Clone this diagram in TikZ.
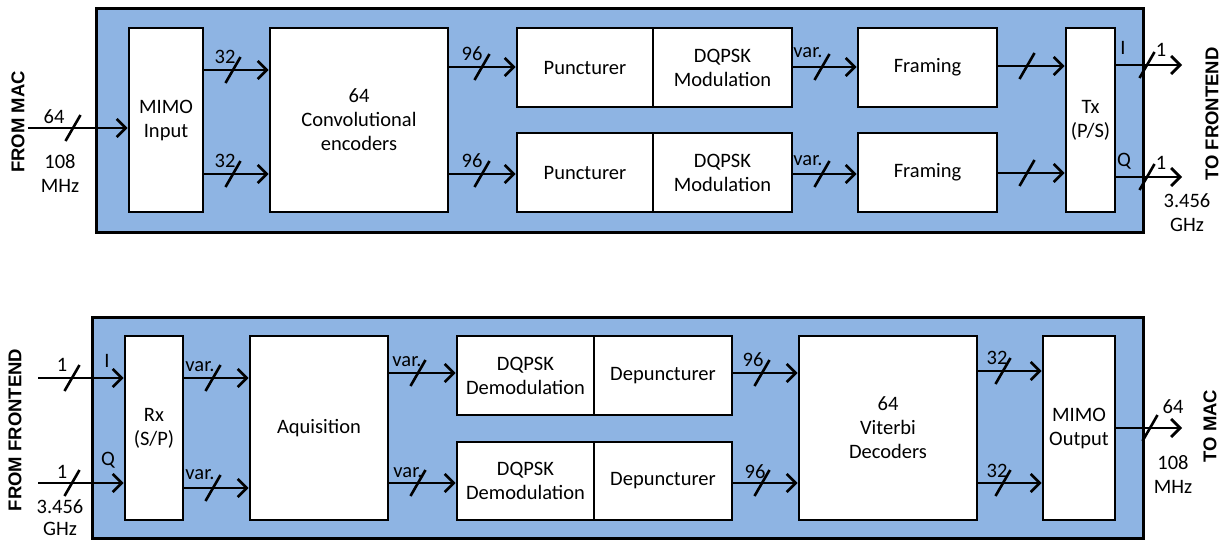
\documentclass[tikz,border=0pt]{standalone}
\usepackage{fontspec}
\setmainfont{Carlito}
\newfontfamily\sidefont{Liberation Sans}
\usetikzlibrary{arrows.meta}
\definecolor{panelblue}{RGB}{142,180,227}
% short slash across a bus line, centred on (x,y)
\newcommand\busmark[2]{\draw[busln] ([shift={(-7.5pt,-13pt)}]#1,#2) -- ([shift={(7.5pt,13pt)}]#1,#2);}
\begin{document}
\begin{tikzpicture}[x=1pt,y=-1pt,
  every node/.style={font=\fontsize{20.5}{24}\selectfont},
  panel/.style 2 args={draw=black, line width=3pt, fill=panelblue,
    minimum width=#1pt, minimum height=#2pt, inner sep=0pt},
  blk/.style 2 args={draw=black, line width=2.8pt, fill=white,
    minimum width=#1pt, minimum height=#2pt, inner sep=0pt, align=center},
  arr/.style={line width=2.7pt, -{Straight Barb[length=9pt,width=18pt]}},
  busln/.style={line width=2.6pt},
  lbl/.style={inner sep=0pt, align=center},
  side/.style={rotate=90, inner sep=0pt, font=\sidefont\bfseries\fontsize{18.5}{22}\selectfont}]
\useasboundingbox (0,0) rectangle (1222,542);

% ---------------- transmitter ----------------
\node[panel={1047}{224}] (txpanel) at (619.5,120) {};
\node[blk={74}{184}] (mimoin) at (166,120) {MIMO\\Input};
\node[blk={178}{184}] (conv) at (359,120) {64\\Convolutional\\encoders};
\node[blk={136}{79}] (punc1) at (585,67.5) {Puncturer};
\node[blk={139}{79}] (mod1) at (722.5,67.5) {DQPSK\\Modulation};
\node[blk={136}{79}] (punc2) at (585,172.5) {Puncturer};
\node[blk={139}{79}] (mod2) at (722.5,172.5) {DQPSK\\Modulation};
\node[blk={139}{79}] (frame1) at (927.5,67.5) {Framing};
\node[blk={139}{79}] (frame2) at (927.5,172.5) {Framing};
\node[blk={49}{184}] (tx) at (1090.5,120) {Tx\\(P/S)};

\coordinate (macin) at (28,128);
\coordinate (feoutI) at (1182,65);
\coordinate (feoutQ) at (1182,177);

\draw[arr] (macin) -- (mimoin.west |- macin);
\draw[arr] (mimoin.east |- 0,70) -- (conv.west |- 0,70);
\draw[arr] (mimoin.east |- 0,174) -- (conv.west |- 0,174);
\draw[arr] (conv.east |- 0,67) -- (punc1.west |- 0,67);
\draw[arr] (conv.east |- 0,174) -- (punc2.west |- 0,174);
\draw[arr] (mod1.east |- 0,67) -- (frame1.west |- 0,67);
\draw[arr] (mod2.east |- 0,174) -- (frame2.west |- 0,174);
\draw[arr] (frame1.east |- 0,66) -- (tx.west |- 0,66);
\draw[arr] (frame2.east |- 0,173) -- (tx.west |- 0,173);
\draw[arr] (tx.east |- feoutI) -- (feoutI);
\draw[arr] (tx.east |- feoutQ) -- (feoutQ);

\busmark{73}{128}
\busmark{233}{70}  \busmark{233}{174}
\busmark{482}{67}  \busmark{482}{174}
\busmark{822}{67}  \busmark{822}{174}
\busmark{1027}{66} \busmark{1027}{173}
\busmark{1147}{65} \busmark{1147}{177}

\node[lbl] (l64a) at (54,117) {64};
\node[lbl] (lclka) at (60,173) {108\\MHz};
\node[lbl] (l32a) at (225,57) {32};
\node[lbl] (l32b) at (225,161) {32};
\node[lbl] (l96a) at (472,54) {96};
\node[lbl] (l96b) at (472,161) {96};
\node[lbl] (lvara) at (808,53) {var.};
\node[lbl] (lvarb) at (808,161) {var.};
\node[lbl] (lI) at (1123,48) {I};
\node[lbl] (lQ) at (1124,161) {Q};
\node[lbl] (l1a) at (1161,50) {1};
\node[lbl] (l1b) at (1161,163) {1};
\node[lbl] (lclkb) at (1187,213) {3.456\\GHz};

\node[side] (frommac) at (18,122) {FROM MAC};
\node[side] (tofe) at (1212,114) {TO FRONTEND};

% ---------------- receiver ----------------
\node[panel={1051}{221}] (rxpanel) at (617.5,427.5) {};
\node[blk={58}{184}] (rx) at (154,428) {Rx\\(S/P)};
\node[blk={138}{184}] (aq) at (319,428) {Aquisition};
\node[blk={137}{79}] (demod1) at (525.5,375.5) {DQPSK\\Demodulation};
\node[blk={138}{79}] (dep1) at (663,375.5) {Depuncturer};
\node[blk={137}{78}] (demod2) at (525.5,481) {DQPSK\\Demodulation};
\node[blk={138}{78}] (dep2) at (663,481) {Depuncturer};
\node[blk={178}{184}] (vit) at (888,428) {64\\Viterbi\\Decoders};
\node[blk={72}{184}] (mimoout) at (1079,428) {MIMO\\Output};

\coordinate (feinI) at (38,378);
\coordinate (feinQ) at (38,483);
\coordinate (macout) at (1182,428);

\draw[arr] (feinI) -- (rx.west |- feinI);
\draw[arr] (feinQ) -- (rx.west |- feinQ);
\draw[arr] (rx.east |- 0,378) -- (aq.west |- 0,378);
\draw[arr] (rx.east |- 0,488) -- (aq.west |- 0,488);
\draw[arr] (aq.east |- 0,373) -- (demod1.west |- 0,373);
\draw[arr] (aq.east |- 0,483) -- (demod2.west |- 0,483);
\draw[arr] (dep1.east |- 0,373) -- (vit.west |- 0,373);
\draw[arr] (dep2.east |- 0,483) -- (vit.west |- 0,483);
\draw[arr] (vit.east |- 0,371) -- (mimoout.west |- 0,371);
\draw[arr] (vit.east |- 0,483) -- (mimoout.west |- 0,483);
\draw[arr] (mimoout.east |- macout) -- (macout);

\busmark{72}{378}   \busmark{72}{483}
\busmark{213}{378}  \busmark{213}{488}
\busmark{418}{373}  \busmark{418}{483}
\busmark{762}{373}  \busmark{762}{483}
\busmark{1003}{371} \busmark{1003}{483}
\busmark{1150}{428}

\node[lbl] (l1c) at (62,365) {1};
\node[lbl] (l1d) at (62,472) {1};
\node[lbl] (lIr) at (107,361) {I};
\node[lbl] (lQr) at (108,460) {Q};
\node[lbl] (lvarc) at (200,367) {var.};
\node[lbl] (lvard) at (200,475) {var.};
\node[lbl] (lvare) at (407,362) {var.};
\node[lbl] (lvarf) at (408,473) {var.};
\node[lbl] (l96c) at (753,360) {96};
\node[lbl] (l96d) at (755,472) {96};
\node[lbl] (l32c) at (997,358) {32};
\node[lbl] (l32d) at (997,471) {32};
\node[lbl] (l64b) at (1173,407) {64};
\node[lbl] (lclkc) at (1173,474) {108\\MHz};
\node[lbl, font=\fontsize{20.5}{22}\selectfont] (lclkd) at (60,518) {3.456\\GHz};

\node[side] (fromfe) at (15,430) {FROM FRONTEND};
\node[side] (tomac) at (1210,426) {TO MAC};
\end{tikzpicture}
\end{document}
